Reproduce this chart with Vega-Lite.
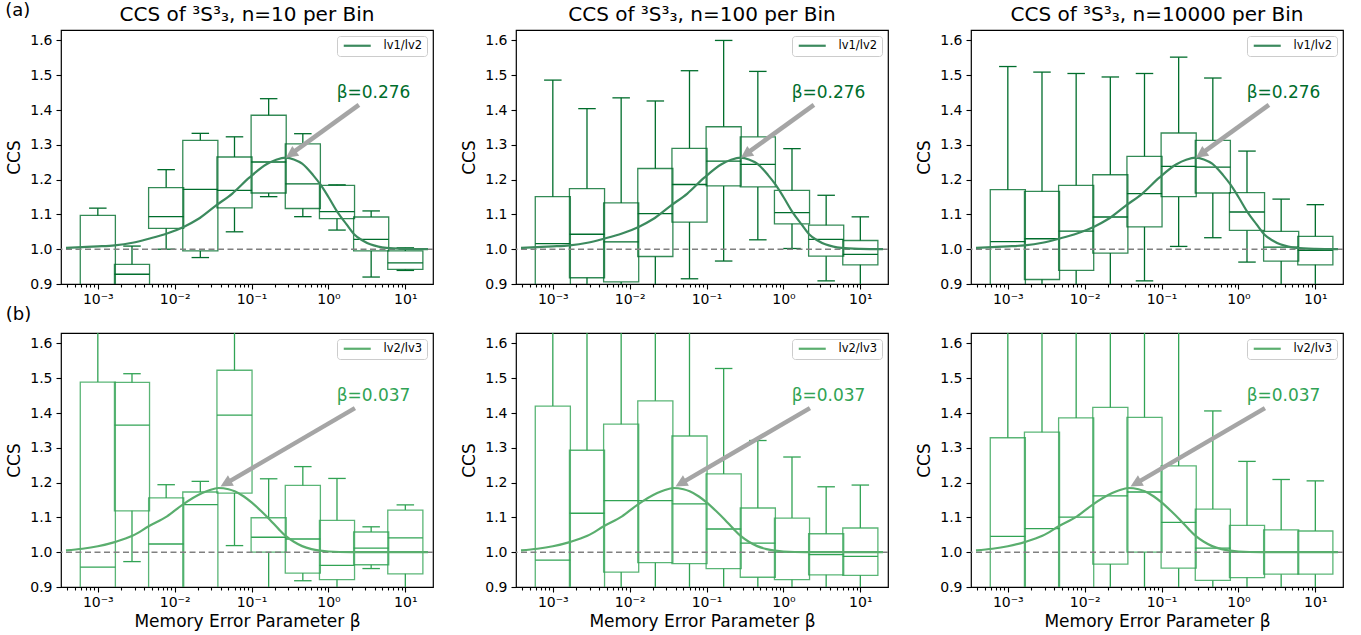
{
  "$schema": "https://vega.github.io/schema/vega-lite/v6.json",
  "padding": {"left": 5, "top": 2, "right": 5, "bottom": 3},
  "background": "white",
  "title": {"text": "(a)", "anchor": "start", "frame": "bounds", "offset": -16, "fontSize": 18, "fontWeight": "normal", "font": "DejaVu Sans", "color": "black"},
  "columns": 3,
  "bounds": "flush",
  "spacing": {"row": 49, "column": 83},
  "resolve": {"scale": {"color": "independent"}, "legend": {"color": "independent"}},
  "config": {
    "font": "DejaVu Sans",
    "view": {"stroke": "black", "strokeWidth": 1.2},
    "axis": {"domain": false, "grid": false, "labelFont": "DejaVu Sans", "labelFontSize": 14, "labelColor": "black", "titleFont": "DejaVu Sans", "titleFontSize": 17, "titleFontWeight": "normal", "titleColor": "black", "tickColor": "black", "tickWidth": 1.1},
    "title": {"font": "DejaVu Sans", "fontSize": 20, "fontWeight": "normal", "color": "black", "offset": 5},
    "legend": {"orient": "top-right", "offset": 6, "padding": 4, "strokeColor": "#cccccc", "fillColor": "white", "cornerRadius": 3, "symbolType": "M-1,0H8", "symbolSize": 36, "symbolStrokeWidth": 2.2, "labelFont": "DejaVu Sans", "labelFontSize": 11.5, "labelColor": "black", "labelOffset": 31}
  },
  "datasets": {
    "a10": [
      {"beta": 0.001, "lo": 0.8, "q1": 0.85, "med": 0.88, "q3": 1.097, "hi": 1.118},
      {"beta": 0.0027826, "lo": 0.85, "q1": 0.88, "med": 0.928, "q3": 0.9565, "hi": 1.009},
      {"beta": 0.0077426, "lo": 1.0, "q1": 1.06, "med": 1.0935, "q3": 1.177, "hi": 1.2286},
      {"beta": 0.021544, "lo": 0.976, "q1": 0.995, "med": 1.172, "q3": 1.313, "hi": 1.333},
      {"beta": 0.059948, "lo": 1.05, "q1": 1.119, "med": 1.169, "q3": 1.265, "hi": 1.323},
      {"beta": 0.16681, "lo": 1.151, "q1": 1.1615, "med": 1.2506, "q3": 1.385, "hi": 1.4326},
      {"beta": 0.46416, "lo": 1.0935, "q1": 1.117, "med": 1.188, "q3": 1.303, "hi": 1.332},
      {"beta": 1.2915, "lo": 1.055, "q1": 1.0877, "med": 1.108, "q3": 1.1835, "hi": 1.185},
      {"beta": 3.5938, "lo": 0.92, "q1": 0.995, "med": 1.0284, "q3": 1.0925, "hi": 1.11},
      {"beta": 10, "lo": 0.939, "q1": 0.942, "med": 0.961, "q3": 0.995, "hi": 1.004}
    ],
    "a100": [
      {"beta": 0.001, "lo": 0.8, "q1": 0.85, "med": 1.016, "q3": 1.151, "hi": 1.486},
      {"beta": 0.0027826, "lo": 0.85, "q1": 0.918, "med": 1.043, "q3": 1.174, "hi": 1.404},
      {"beta": 0.0077426, "lo": 0.85, "q1": 0.906, "med": 1.021, "q3": 1.133, "hi": 1.435},
      {"beta": 0.021544, "lo": 0.85, "q1": 0.979, "med": 1.102, "q3": 1.232, "hi": 1.426},
      {"beta": 0.059948, "lo": 0.915, "q1": 1.078, "med": 1.186, "q3": 1.29, "hi": 1.513},
      {"beta": 0.16681, "lo": 0.966, "q1": 1.182, "med": 1.253, "q3": 1.352, "hi": 1.6},
      {"beta": 0.46416, "lo": 1.027, "q1": 1.179, "med": 1.244, "q3": 1.323, "hi": 1.511},
      {"beta": 1.2915, "lo": 1.002, "q1": 1.073, "med": 1.105, "q3": 1.169, "hi": 1.289},
      {"beta": 3.5938, "lo": 0.909, "q1": 0.98, "med": 1.028, "q3": 1.069, "hi": 1.155},
      {"beta": 10, "lo": 0.85, "q1": 0.955, "med": 0.985, "q3": 1.025, "hi": 1.093}
    ],
    "a10000": [
      {"beta": 0.001, "lo": 0.8, "q1": 0.89, "med": 1.022, "q3": 1.171, "hi": 1.525},
      {"beta": 0.0027826, "lo": 0.85, "q1": 0.913, "med": 1.03, "q3": 1.166, "hi": 1.509},
      {"beta": 0.0077426, "lo": 0.85, "q1": 0.939, "med": 1.052, "q3": 1.1835, "hi": 1.505},
      {"beta": 0.021544, "lo": 0.85, "q1": 0.989, "med": 1.0925, "q3": 1.214, "hi": 1.495},
      {"beta": 0.059948, "lo": 0.909, "q1": 1.064, "med": 1.16, "q3": 1.267, "hi": 1.505},
      {"beta": 0.16681, "lo": 1.008, "q1": 1.151, "med": 1.238, "q3": 1.334, "hi": 1.552},
      {"beta": 0.46416, "lo": 1.033, "q1": 1.1615, "med": 1.236, "q3": 1.313, "hi": 1.492},
      {"beta": 1.2915, "lo": 0.963, "q1": 1.054, "med": 1.107, "q3": 1.1625, "hi": 1.282},
      {"beta": 3.5938, "lo": 0.85, "q1": 0.966, "med": 1.006, "q3": 1.051, "hi": 1.144},
      {"beta": 10, "lo": 0.85, "q1": 0.955, "med": 0.997, "q3": 1.037, "hi": 1.128}
    ],
    "b10": [
      {"beta": 0.001, "lo": 0.8, "q1": 0.85, "med": 0.957, "q3": 1.489, "hi": 1.75},
      {"beta": 0.0027826, "lo": 0.973, "q1": 1.119, "med": 1.365, "q3": 1.488, "hi": 1.513},
      {"beta": 0.0077426, "lo": 0.8, "q1": 0.85, "med": 1.0236, "q3": 1.156, "hi": 1.194},
      {"beta": 0.021544, "lo": 0.8, "q1": 0.85, "med": 1.137, "q3": 1.173, "hi": 1.2036},
      {"beta": 0.059948, "lo": 1.019, "q1": 1.17, "med": 1.394, "q3": 1.523, "hi": 1.75},
      {"beta": 0.16681, "lo": 0.85, "q1": 1.0, "med": 1.043, "q3": 1.099, "hi": 1.211},
      {"beta": 0.46416, "lo": 0.918, "q1": 0.94, "med": 1.038, "q3": 1.192, "hi": 1.246},
      {"beta": 1.2915, "lo": 0.85, "q1": 0.921, "med": 0.962, "q3": 1.0916, "hi": 1.212},
      {"beta": 3.5938, "lo": 0.953, "q1": 0.964, "med": 1.012, "q3": 1.058, "hi": 1.073},
      {"beta": 10, "lo": 0.85, "q1": 0.938, "med": 1.041, "q3": 1.121, "hi": 1.136}
    ],
    "b100": [
      {"beta": 0.001, "lo": 0.8, "q1": 0.85, "med": 0.977, "q3": 1.42, "hi": 1.75},
      {"beta": 0.0027826, "lo": 0.8, "q1": 0.85, "med": 1.112, "q3": 1.293, "hi": 1.75},
      {"beta": 0.0077426, "lo": 0.8, "q1": 0.943, "med": 1.148, "q3": 1.368, "hi": 1.75},
      {"beta": 0.021544, "lo": 0.8, "q1": 0.97, "med": 1.148, "q3": 1.435, "hi": 1.75},
      {"beta": 0.059948, "lo": 0.8, "q1": 0.967, "med": 1.139, "q3": 1.334, "hi": 1.75},
      {"beta": 0.16681, "lo": 0.8, "q1": 0.953, "med": 1.0667, "q3": 1.225, "hi": 1.528},
      {"beta": 0.46416, "lo": 0.8, "q1": 0.928, "med": 1.026, "q3": 1.127, "hi": 1.321},
      {"beta": 1.2915, "lo": 0.8, "q1": 0.921, "med": 1.0, "q3": 1.098, "hi": 1.2736},
      {"beta": 3.5938, "lo": 0.8, "q1": 0.935, "med": 0.993, "q3": 1.053, "hi": 1.188},
      {"beta": 10, "lo": 0.8, "q1": 0.9335, "med": 0.988, "q3": 1.0695, "hi": 1.193}
    ],
    "b10000": [
      {"beta": 0.001, "lo": 0.8, "q1": 0.85, "med": 1.0456, "q3": 1.329, "hi": 1.75},
      {"beta": 0.0027826, "lo": 0.8, "q1": 0.85, "med": 1.068, "q3": 1.345, "hi": 1.75},
      {"beta": 0.0077426, "lo": 0.8, "q1": 0.85, "med": 1.101, "q3": 1.386, "hi": 1.75},
      {"beta": 0.021544, "lo": 0.8, "q1": 0.966, "med": 1.162, "q3": 1.416, "hi": 1.75},
      {"beta": 0.059948, "lo": 0.8, "q1": 1.0, "med": 1.173, "q3": 1.3875, "hi": 1.75},
      {"beta": 0.16681, "lo": 0.8, "q1": 0.954, "med": 1.086, "q3": 1.248, "hi": 1.75},
      {"beta": 0.46416, "lo": 0.8, "q1": 0.919, "med": 1.012, "q3": 1.124, "hi": 1.406},
      {"beta": 1.2915, "lo": 0.8, "q1": 0.927, "med": 1.0, "q3": 1.077, "hi": 1.261},
      {"beta": 3.5938, "lo": 0.8, "q1": 0.937, "med": 1.0, "q3": 1.064, "hi": 1.209},
      {"beta": 10, "lo": 0.8, "q1": 0.937, "med": 1.0, "q3": 1.061, "hi": 1.205}
    ],
    "curve_a": [
      {"beta": 0.0003855, "ccs": 1.004, "series": "lv1/lv2"},
      {"beta": 0.00063096, "ccs": 1.006, "series": "lv1/lv2"},
      {"beta": 0.001, "ccs": 1.008, "series": "lv1/lv2"},
      {"beta": 0.0016558, "ccs": 1.011, "series": "lv1/lv2"},
      {"beta": 0.0028184, "ccs": 1.0185, "series": "lv1/lv2"},
      {"beta": 0.004592, "ccs": 1.03, "series": "lv1/lv2"},
      {"beta": 0.0079433, "ccs": 1.045, "series": "lv1/lv2"},
      {"beta": 0.013062, "ccs": 1.064, "series": "lv1/lv2"},
      {"beta": 0.019953, "ccs": 1.086, "series": "lv1/lv2"},
      {"beta": 0.033651, "ccs": 1.124, "series": "lv1/lv2"},
      {"beta": 0.056234, "ccs": 1.16, "series": "lv1/lv2"},
      {"beta": 0.093325, "ccs": 1.2055, "series": "lv1/lv2"},
      {"beta": 0.15631, "ccs": 1.244, "series": "lv1/lv2"},
      {"beta": 0.20893, "ccs": 1.257, "series": "lv1/lv2"},
      {"beta": 0.2799, "ccs": 1.263, "series": "lv1/lv2"},
      {"beta": 0.35481, "ccs": 1.258, "series": "lv1/lv2"},
      {"beta": 0.45499, "ccs": 1.246, "series": "lv1/lv2"},
      {"beta": 0.63096, "ccs": 1.213, "series": "lv1/lv2"},
      {"beta": 0.78524, "ccs": 1.186, "series": "lv1/lv2"},
      {"beta": 1.0, "ccs": 1.15, "series": "lv1/lv2"},
      {"beta": 1.3243, "ccs": 1.105, "series": "lv1/lv2"},
      {"beta": 1.71, "ccs": 1.072, "series": "lv1/lv2"},
      {"beta": 2.1528, "ccs": 1.043, "series": "lv1/lv2"},
      {"beta": 2.7797, "ccs": 1.025, "series": "lv1/lv2"},
      {"beta": 3.4995, "ccs": 1.014, "series": "lv1/lv2"},
      {"beta": 4.4668, "ccs": 1.0075, "series": "lv1/lv2"},
      {"beta": 5.6754, "ccs": 1.004, "series": "lv1/lv2"},
      {"beta": 10, "ccs": 1.001, "series": "lv1/lv2"},
      {"beta": 19.72, "ccs": 1.0, "series": "lv1/lv2"}
    ],
    "curve_b": [
      {"beta": 0.0003855, "ccs": 1.0055, "series": "lv2/lv3"},
      {"beta": 0.00063096, "ccs": 1.01, "series": "lv2/lv3"},
      {"beta": 0.001, "ccs": 1.017, "series": "lv2/lv3"},
      {"beta": 0.0016558, "ccs": 1.029, "series": "lv2/lv3"},
      {"beta": 0.0028184, "ccs": 1.047, "series": "lv2/lv3"},
      {"beta": 0.004592, "ccs": 1.0744, "series": "lv2/lv3"},
      {"beta": 0.0079433, "ccs": 1.103, "series": "lv2/lv3"},
      {"beta": 0.012735, "ccs": 1.137, "series": "lv2/lv3"},
      {"beta": 0.022803, "ccs": 1.17, "series": "lv2/lv3"},
      {"beta": 0.028184, "ccs": 1.178, "series": "lv2/lv3"},
      {"beta": 0.036983, "ccs": 1.1845, "series": "lv2/lv3"},
      {"beta": 0.050119, "ccs": 1.181, "series": "lv2/lv3"},
      {"beta": 0.060256, "ccs": 1.175, "series": "lv2/lv3"},
      {"beta": 0.079433, "ccs": 1.16, "series": "lv2/lv3"},
      {"beta": 0.1, "ccs": 1.143, "series": "lv2/lv3"},
      {"beta": 0.13183, "ccs": 1.119, "series": "lv2/lv3"},
      {"beta": 0.17179, "ccs": 1.094, "series": "lv2/lv3"},
      {"beta": 0.22387, "ccs": 1.067, "series": "lv2/lv3"},
      {"beta": 0.2799, "ccs": 1.046, "series": "lv2/lv3"},
      {"beta": 0.35481, "ccs": 1.03, "series": "lv2/lv3"},
      {"beta": 0.45499, "ccs": 1.0175, "series": "lv2/lv3"},
      {"beta": 0.60256, "ccs": 1.009, "series": "lv2/lv3"},
      {"beta": 0.77625, "ccs": 1.0046, "series": "lv2/lv3"},
      {"beta": 1.0, "ccs": 1.002, "series": "lv2/lv3"},
      {"beta": 1.9498, "ccs": 1.0, "series": "lv2/lv3"},
      {"beta": 19.72, "ccs": 1.0, "series": "lv2/lv3"}
    ],
    "ann_a": [
      {"tail_x": 2.49, "tail_y": 1.415, "base_x": 0.3553, "base_y": 1.2797, "tip_x": 0.28, "tip_y": 1.263, "tx": 3.86, "ty": 1.45, "label": "β=0.276"}
    ],
    "ann_b": [
      {"tail_x": 2.21, "tail_y": 1.414, "base_x": 0.05084, "base_y": 1.203, "tip_x": 0.0394, "tip_y": 1.189, "tx": 3.86, "ty": 1.448, "label": "β=0.037"}
    ]
  },
  "concat": [
    {
      "width": 372, "height": 254,
      "title": {"text": "CCS of ³S³₃, n=10 per Bin"},
      "resolve": {"axis": {"x": "independent", "y": "independent"}},
      "layer": [
        {"data": {"name": "a10"},
         "mark": {"type": "bar", "orient": "vertical", "width": 35.1, "filled": false, "color": "#006d2c", "strokeWidth": 1.3, "opacity": 1, "strokeOpacity": 0.8, "clip": true},
         "encoding": {
           "x": {"field": "beta", "type": "quantitative", "scale": {"type": "log", "domain": [0.0003855, 19.72], "nice": false}, "axis": {"orient": "bottom", "values": [0.001, 0.01, 0.1, 1, 10], "labelExpr": "datum.value < 0.005 ? '10⁻³' : datum.value < 0.05 ? '10⁻²' : datum.value < 0.5 ? '10⁻¹' : datum.value < 5 ? '10⁰' : '10¹'", "title": null, "tickSize": 5, "labelPadding": 3, "labelOverlap": false, "labelFlush": false}},
           "y": {"field": "q1", "type": "quantitative", "scale": {"domain": [0.9, 1.63], "nice": false, "zero": false}, "axis": {"orient": "left", "title": "CCS", "values": [0.9, 1.0, 1.1, 1.2, 1.3, 1.4, 1.5, 1.6], "format": ".1f", "tickSize": 5, "labelPadding": 4, "titlePadding": 6}},
           "y2": {"field": "q3"}
         }},
        {"data": {"name": "a10"},
         "mark": {"type": "rule", "color": "#006d2c", "strokeWidth": 1.3, "clip": true},
         "encoding": {
           "x": {"field": "beta", "type": "quantitative", "axis": {"orient": "bottom", "values": [0.0004, 0.0005, 0.0006, 0.0007, 0.0008, 0.0009, 0.002, 0.003, 0.004, 0.005, 0.006, 0.007, 0.008, 0.009, 0.02, 0.03, 0.04, 0.05, 0.06, 0.07, 0.08, 0.09, 0.2, 0.3, 0.4, 0.5, 0.6, 0.7, 0.8, 0.9, 2, 3, 4, 5, 6, 7, 8, 9], "labels": false, "tickSize": 3, "title": null}},
           "y": {"field": "lo", "type": "quantitative", "axis": null},
           "y2": {"field": "q1"}
         }},
        {"data": {"name": "a10"},
         "mark": {"type": "rule", "color": "#006d2c", "strokeWidth": 1.3, "clip": true},
         "encoding": {
           "x": {"field": "beta", "type": "quantitative", "axis": null},
           "y": {"field": "q3", "type": "quantitative", "axis": null},
           "y2": {"field": "hi"}
         }},
        {"data": {"name": "a10"},
         "transform": [{"fold": ["lo", "hi"], "as": ["k", "v"]}],
         "mark": {"type": "tick", "orient": "horizontal", "size": 17.5, "thickness": 1.3, "color": "#006d2c", "opacity": 1, "clip": true},
         "encoding": {
           "x": {"field": "beta", "type": "quantitative", "axis": null},
           "y": {"field": "v", "type": "quantitative", "axis": null}
         }},
        {"data": {"name": "a10"},
         "mark": {"type": "tick", "orient": "horizontal", "size": 35.1, "thickness": 1.3, "color": "#006d2c", "opacity": 1, "clip": true},
         "encoding": {
           "x": {"field": "beta", "type": "quantitative", "axis": null},
           "y": {"field": "med", "type": "quantitative", "axis": null}
         }},
        {"data": {"values": [{}]},
         "mark": {"type": "rule", "color": "#808080", "strokeWidth": 1.5, "strokeDash": [6, 3.5]},
         "encoding": {"y": {"datum": 1, "axis": null}}},
        {"data": {"name": "curve_a"},
         "mark": {"type": "line", "strokeWidth": 2.2, "interpolate": "monotone", "clip": true},
         "encoding": {
           "x": {"field": "beta", "type": "quantitative", "axis": null},
           "y": {"field": "ccs", "type": "quantitative", "axis": null},
           "color": {"field": "series", "type": "nominal", "scale": {"range": ["#3c8a5e"]}, "legend": {"title": null}}
         }},
        {"data": {"name": "ann_a"},
         "mark": {"type": "rule", "color": "#a5a5a5", "strokeWidth": 4.5},
         "encoding": {
           "x": {"field": "tail_x", "type": "quantitative", "axis": null},
           "y": {"field": "tail_y", "type": "quantitative", "axis": null},
           "x2": {"field": "base_x"}, "y2": {"field": "base_y"}
         }},
        {"data": {"name": "ann_a"},
         "mark": {"type": "point", "shape": "M0,0L-2,-1L-2,1Z", "size": 144, "angle": 144.8, "filled": true, "color": "#a5a5a5", "opacity": 1, "strokeWidth": 0},
         "encoding": {
           "x": {"field": "tip_x", "type": "quantitative", "axis": null},
           "y": {"field": "tip_y", "type": "quantitative", "axis": null}
         }},
        {"data": {"name": "ann_a"},
         "mark": {"type": "text", "fontSize": 17, "color": "#006d2c", "align": "center", "baseline": "middle"},
         "encoding": {
           "x": {"field": "tx", "type": "quantitative", "axis": null},
           "y": {"field": "ty", "type": "quantitative", "axis": null},
           "text": {"field": "label"}
         }}
      ]
    },
    {
      "width": 372, "height": 254,
      "title": {"text": "CCS of ³S³₃, n=100 per Bin"},
      "resolve": {"axis": {"x": "independent", "y": "independent"}},
      "layer": [
        {"data": {"name": "a100"},
         "mark": {"type": "bar", "orient": "vertical", "width": 35.1, "filled": false, "color": "#006d2c", "strokeWidth": 1.3, "opacity": 1, "strokeOpacity": 0.8, "clip": true},
         "encoding": {
           "x": {"field": "beta", "type": "quantitative", "scale": {"type": "log", "domain": [0.0003855, 19.72], "nice": false}, "axis": {"orient": "bottom", "values": [0.001, 0.01, 0.1, 1, 10], "labelExpr": "datum.value < 0.005 ? '10⁻³' : datum.value < 0.05 ? '10⁻²' : datum.value < 0.5 ? '10⁻¹' : datum.value < 5 ? '10⁰' : '10¹'", "title": null, "tickSize": 5, "labelPadding": 3, "labelOverlap": false, "labelFlush": false}},
           "y": {"field": "q1", "type": "quantitative", "scale": {"domain": [0.9, 1.63], "nice": false, "zero": false}, "axis": {"orient": "left", "title": "CCS", "values": [0.9, 1.0, 1.1, 1.2, 1.3, 1.4, 1.5, 1.6], "format": ".1f", "tickSize": 5, "labelPadding": 4, "titlePadding": 6}},
           "y2": {"field": "q3"}
         }},
        {"data": {"name": "a100"},
         "mark": {"type": "rule", "color": "#006d2c", "strokeWidth": 1.3, "clip": true},
         "encoding": {
           "x": {"field": "beta", "type": "quantitative", "axis": {"orient": "bottom", "values": [0.0004, 0.0005, 0.0006, 0.0007, 0.0008, 0.0009, 0.002, 0.003, 0.004, 0.005, 0.006, 0.007, 0.008, 0.009, 0.02, 0.03, 0.04, 0.05, 0.06, 0.07, 0.08, 0.09, 0.2, 0.3, 0.4, 0.5, 0.6, 0.7, 0.8, 0.9, 2, 3, 4, 5, 6, 7, 8, 9], "labels": false, "tickSize": 3, "title": null}},
           "y": {"field": "lo", "type": "quantitative", "axis": null},
           "y2": {"field": "q1"}
         }},
        {"data": {"name": "a100"},
         "mark": {"type": "rule", "color": "#006d2c", "strokeWidth": 1.3, "clip": true},
         "encoding": {
           "x": {"field": "beta", "type": "quantitative", "axis": null},
           "y": {"field": "q3", "type": "quantitative", "axis": null},
           "y2": {"field": "hi"}
         }},
        {"data": {"name": "a100"},
         "transform": [{"fold": ["lo", "hi"], "as": ["k", "v"]}],
         "mark": {"type": "tick", "orient": "horizontal", "size": 17.5, "thickness": 1.3, "color": "#006d2c", "opacity": 1, "clip": true},
         "encoding": {
           "x": {"field": "beta", "type": "quantitative", "axis": null},
           "y": {"field": "v", "type": "quantitative", "axis": null}
         }},
        {"data": {"name": "a100"},
         "mark": {"type": "tick", "orient": "horizontal", "size": 35.1, "thickness": 1.3, "color": "#006d2c", "opacity": 1, "clip": true},
         "encoding": {
           "x": {"field": "beta", "type": "quantitative", "axis": null},
           "y": {"field": "med", "type": "quantitative", "axis": null}
         }},
        {"data": {"values": [{}]},
         "mark": {"type": "rule", "color": "#808080", "strokeWidth": 1.5, "strokeDash": [6, 3.5]},
         "encoding": {"y": {"datum": 1, "axis": null}}},
        {"data": {"name": "curve_a"},
         "mark": {"type": "line", "strokeWidth": 2.2, "interpolate": "monotone", "clip": true},
         "encoding": {
           "x": {"field": "beta", "type": "quantitative", "axis": null},
           "y": {"field": "ccs", "type": "quantitative", "axis": null},
           "color": {"field": "series", "type": "nominal", "scale": {"range": ["#3c8a5e"]}, "legend": {"title": null}}
         }},
        {"data": {"name": "ann_a"},
         "mark": {"type": "rule", "color": "#a5a5a5", "strokeWidth": 4.5},
         "encoding": {
           "x": {"field": "tail_x", "type": "quantitative", "axis": null},
           "y": {"field": "tail_y", "type": "quantitative", "axis": null},
           "x2": {"field": "base_x"}, "y2": {"field": "base_y"}
         }},
        {"data": {"name": "ann_a"},
         "mark": {"type": "point", "shape": "M0,0L-2,-1L-2,1Z", "size": 144, "angle": 144.8, "filled": true, "color": "#a5a5a5", "opacity": 1, "strokeWidth": 0},
         "encoding": {
           "x": {"field": "tip_x", "type": "quantitative", "axis": null},
           "y": {"field": "tip_y", "type": "quantitative", "axis": null}
         }},
        {"data": {"name": "ann_a"},
         "mark": {"type": "text", "fontSize": 17, "color": "#006d2c", "align": "center", "baseline": "middle"},
         "encoding": {
           "x": {"field": "tx", "type": "quantitative", "axis": null},
           "y": {"field": "ty", "type": "quantitative", "axis": null},
           "text": {"field": "label"}
         }}
      ]
    },
    {
      "width": 372, "height": 254,
      "title": {"text": "CCS of ³S³₃, n=10000 per Bin"},
      "resolve": {"axis": {"x": "independent", "y": "independent"}},
      "layer": [
        {"data": {"name": "a10000"},
         "mark": {"type": "bar", "orient": "vertical", "width": 35.1, "filled": false, "color": "#006d2c", "strokeWidth": 1.3, "opacity": 1, "strokeOpacity": 0.8, "clip": true},
         "encoding": {
           "x": {"field": "beta", "type": "quantitative", "scale": {"type": "log", "domain": [0.0003855, 19.72], "nice": false}, "axis": {"orient": "bottom", "values": [0.001, 0.01, 0.1, 1, 10], "labelExpr": "datum.value < 0.005 ? '10⁻³' : datum.value < 0.05 ? '10⁻²' : datum.value < 0.5 ? '10⁻¹' : datum.value < 5 ? '10⁰' : '10¹'", "title": null, "tickSize": 5, "labelPadding": 3, "labelOverlap": false, "labelFlush": false}},
           "y": {"field": "q1", "type": "quantitative", "scale": {"domain": [0.9, 1.63], "nice": false, "zero": false}, "axis": {"orient": "left", "title": "CCS", "values": [0.9, 1.0, 1.1, 1.2, 1.3, 1.4, 1.5, 1.6], "format": ".1f", "tickSize": 5, "labelPadding": 4, "titlePadding": 6}},
           "y2": {"field": "q3"}
         }},
        {"data": {"name": "a10000"},
         "mark": {"type": "rule", "color": "#006d2c", "strokeWidth": 1.3, "clip": true},
         "encoding": {
           "x": {"field": "beta", "type": "quantitative", "axis": {"orient": "bottom", "values": [0.0004, 0.0005, 0.0006, 0.0007, 0.0008, 0.0009, 0.002, 0.003, 0.004, 0.005, 0.006, 0.007, 0.008, 0.009, 0.02, 0.03, 0.04, 0.05, 0.06, 0.07, 0.08, 0.09, 0.2, 0.3, 0.4, 0.5, 0.6, 0.7, 0.8, 0.9, 2, 3, 4, 5, 6, 7, 8, 9], "labels": false, "tickSize": 3, "title": null}},
           "y": {"field": "lo", "type": "quantitative", "axis": null},
           "y2": {"field": "q1"}
         }},
        {"data": {"name": "a10000"},
         "mark": {"type": "rule", "color": "#006d2c", "strokeWidth": 1.3, "clip": true},
         "encoding": {
           "x": {"field": "beta", "type": "quantitative", "axis": null},
           "y": {"field": "q3", "type": "quantitative", "axis": null},
           "y2": {"field": "hi"}
         }},
        {"data": {"name": "a10000"},
         "transform": [{"fold": ["lo", "hi"], "as": ["k", "v"]}],
         "mark": {"type": "tick", "orient": "horizontal", "size": 17.5, "thickness": 1.3, "color": "#006d2c", "opacity": 1, "clip": true},
         "encoding": {
           "x": {"field": "beta", "type": "quantitative", "axis": null},
           "y": {"field": "v", "type": "quantitative", "axis": null}
         }},
        {"data": {"name": "a10000"},
         "mark": {"type": "tick", "orient": "horizontal", "size": 35.1, "thickness": 1.3, "color": "#006d2c", "opacity": 1, "clip": true},
         "encoding": {
           "x": {"field": "beta", "type": "quantitative", "axis": null},
           "y": {"field": "med", "type": "quantitative", "axis": null}
         }},
        {"data": {"values": [{}]},
         "mark": {"type": "rule", "color": "#808080", "strokeWidth": 1.5, "strokeDash": [6, 3.5]},
         "encoding": {"y": {"datum": 1, "axis": null}}},
        {"data": {"name": "curve_a"},
         "mark": {"type": "line", "strokeWidth": 2.2, "interpolate": "monotone", "clip": true},
         "encoding": {
           "x": {"field": "beta", "type": "quantitative", "axis": null},
           "y": {"field": "ccs", "type": "quantitative", "axis": null},
           "color": {"field": "series", "type": "nominal", "scale": {"range": ["#3c8a5e"]}, "legend": {"title": null}}
         }},
        {"data": {"name": "ann_a"},
         "mark": {"type": "rule", "color": "#a5a5a5", "strokeWidth": 4.5},
         "encoding": {
           "x": {"field": "tail_x", "type": "quantitative", "axis": null},
           "y": {"field": "tail_y", "type": "quantitative", "axis": null},
           "x2": {"field": "base_x"}, "y2": {"field": "base_y"}
         }},
        {"data": {"name": "ann_a"},
         "mark": {"type": "point", "shape": "M0,0L-2,-1L-2,1Z", "size": 144, "angle": 144.8, "filled": true, "color": "#a5a5a5", "opacity": 1, "strokeWidth": 0},
         "encoding": {
           "x": {"field": "tip_x", "type": "quantitative", "axis": null},
           "y": {"field": "tip_y", "type": "quantitative", "axis": null}
         }},
        {"data": {"name": "ann_a"},
         "mark": {"type": "text", "fontSize": 17, "color": "#006d2c", "align": "center", "baseline": "middle"},
         "encoding": {
           "x": {"field": "tx", "type": "quantitative", "axis": null},
           "y": {"field": "ty", "type": "quantitative", "axis": null},
           "text": {"field": "label"}
         }}
      ]
    },
    {
      "width": 372, "height": 254,
      "title": {"text": "(b)", "anchor": "start", "frame": "bounds", "fontSize": 18, "offset": 9},
      "resolve": {"axis": {"x": "independent", "y": "independent"}},
      "layer": [
        {"data": {"name": "b10"},
         "mark": {"type": "bar", "orient": "vertical", "width": 35.1, "filled": false, "color": "#31a354", "strokeWidth": 1.3, "opacity": 1, "strokeOpacity": 0.8, "clip": true},
         "encoding": {
           "x": {"field": "beta", "type": "quantitative", "scale": {"type": "log", "domain": [0.0003855, 19.72], "nice": false}, "axis": {"orient": "bottom", "values": [0.001, 0.01, 0.1, 1, 10], "labelExpr": "datum.value < 0.005 ? '10⁻³' : datum.value < 0.05 ? '10⁻²' : datum.value < 0.5 ? '10⁻¹' : datum.value < 5 ? '10⁰' : '10¹'", "title": "Memory Error Parameter β", "titlePadding": 4, "tickSize": 5, "labelPadding": 3, "labelOverlap": false, "labelFlush": false}},
           "y": {"field": "q1", "type": "quantitative", "scale": {"domain": [0.9, 1.63], "nice": false, "zero": false}, "axis": {"orient": "left", "title": "CCS", "values": [0.9, 1.0, 1.1, 1.2, 1.3, 1.4, 1.5, 1.6], "format": ".1f", "tickSize": 5, "labelPadding": 4, "titlePadding": 6}},
           "y2": {"field": "q3"}
         }},
        {"data": {"name": "b10"},
         "mark": {"type": "rule", "color": "#31a354", "strokeWidth": 1.3, "clip": true},
         "encoding": {
           "x": {"field": "beta", "type": "quantitative", "axis": {"orient": "bottom", "values": [0.0004, 0.0005, 0.0006, 0.0007, 0.0008, 0.0009, 0.002, 0.003, 0.004, 0.005, 0.006, 0.007, 0.008, 0.009, 0.02, 0.03, 0.04, 0.05, 0.06, 0.07, 0.08, 0.09, 0.2, 0.3, 0.4, 0.5, 0.6, 0.7, 0.8, 0.9, 2, 3, 4, 5, 6, 7, 8, 9], "labels": false, "tickSize": 3, "title": null}},
           "y": {"field": "lo", "type": "quantitative", "axis": null},
           "y2": {"field": "q1"}
         }},
        {"data": {"name": "b10"},
         "mark": {"type": "rule", "color": "#31a354", "strokeWidth": 1.3, "clip": true},
         "encoding": {
           "x": {"field": "beta", "type": "quantitative", "axis": null},
           "y": {"field": "q3", "type": "quantitative", "axis": null},
           "y2": {"field": "hi"}
         }},
        {"data": {"name": "b10"},
         "transform": [{"fold": ["lo", "hi"], "as": ["k", "v"]}],
         "mark": {"type": "tick", "orient": "horizontal", "size": 17.5, "thickness": 1.3, "color": "#31a354", "opacity": 1, "clip": true},
         "encoding": {
           "x": {"field": "beta", "type": "quantitative", "axis": null},
           "y": {"field": "v", "type": "quantitative", "axis": null}
         }},
        {"data": {"name": "b10"},
         "mark": {"type": "tick", "orient": "horizontal", "size": 35.1, "thickness": 1.3, "color": "#31a354", "opacity": 1, "clip": true},
         "encoding": {
           "x": {"field": "beta", "type": "quantitative", "axis": null},
           "y": {"field": "med", "type": "quantitative", "axis": null}
         }},
        {"data": {"values": [{}]},
         "mark": {"type": "rule", "color": "#808080", "strokeWidth": 1.5, "strokeDash": [6, 3.5]},
         "encoding": {"y": {"datum": 1, "axis": null}}},
        {"data": {"name": "curve_b"},
         "mark": {"type": "line", "strokeWidth": 2.2, "interpolate": "monotone", "clip": true},
         "encoding": {
           "x": {"field": "beta", "type": "quantitative", "axis": null},
           "y": {"field": "ccs", "type": "quantitative", "axis": null},
           "color": {"field": "series", "type": "nominal", "scale": {"range": ["#5aae6e"]}, "legend": {"title": null}}
         }},
        {"data": {"name": "ann_b"},
         "mark": {"type": "rule", "color": "#a5a5a5", "strokeWidth": 4.5},
         "encoding": {
           "x": {"field": "tail_x", "type": "quantitative", "axis": null},
           "y": {"field": "tail_y", "type": "quantitative", "axis": null},
           "x2": {"field": "base_x"}, "y2": {"field": "base_y"}
         }},
        {"data": {"name": "ann_b"},
         "mark": {"type": "point", "shape": "M0,0L-2,-1L-2,1Z", "size": 144, "angle": 150.45, "filled": true, "color": "#a5a5a5", "opacity": 1, "strokeWidth": 0},
         "encoding": {
           "x": {"field": "tip_x", "type": "quantitative", "axis": null},
           "y": {"field": "tip_y", "type": "quantitative", "axis": null}
         }},
        {"data": {"name": "ann_b"},
         "mark": {"type": "text", "fontSize": 17, "color": "#31a354", "align": "center", "baseline": "middle"},
         "encoding": {
           "x": {"field": "tx", "type": "quantitative", "axis": null},
           "y": {"field": "ty", "type": "quantitative", "axis": null},
           "text": {"field": "label"}
         }}
      ]
    },
    {
      "width": 372, "height": 254,
      "resolve": {"axis": {"x": "independent", "y": "independent"}},
      "layer": [
        {"data": {"name": "b100"},
         "mark": {"type": "bar", "orient": "vertical", "width": 35.1, "filled": false, "color": "#31a354", "strokeWidth": 1.3, "opacity": 1, "strokeOpacity": 0.8, "clip": true},
         "encoding": {
           "x": {"field": "beta", "type": "quantitative", "scale": {"type": "log", "domain": [0.0003855, 19.72], "nice": false}, "axis": {"orient": "bottom", "values": [0.001, 0.01, 0.1, 1, 10], "labelExpr": "datum.value < 0.005 ? '10⁻³' : datum.value < 0.05 ? '10⁻²' : datum.value < 0.5 ? '10⁻¹' : datum.value < 5 ? '10⁰' : '10¹'", "title": "Memory Error Parameter β", "titlePadding": 4, "tickSize": 5, "labelPadding": 3, "labelOverlap": false, "labelFlush": false}},
           "y": {"field": "q1", "type": "quantitative", "scale": {"domain": [0.9, 1.63], "nice": false, "zero": false}, "axis": {"orient": "left", "title": "CCS", "values": [0.9, 1.0, 1.1, 1.2, 1.3, 1.4, 1.5, 1.6], "format": ".1f", "tickSize": 5, "labelPadding": 4, "titlePadding": 6}},
           "y2": {"field": "q3"}
         }},
        {"data": {"name": "b100"},
         "mark": {"type": "rule", "color": "#31a354", "strokeWidth": 1.3, "clip": true},
         "encoding": {
           "x": {"field": "beta", "type": "quantitative", "axis": {"orient": "bottom", "values": [0.0004, 0.0005, 0.0006, 0.0007, 0.0008, 0.0009, 0.002, 0.003, 0.004, 0.005, 0.006, 0.007, 0.008, 0.009, 0.02, 0.03, 0.04, 0.05, 0.06, 0.07, 0.08, 0.09, 0.2, 0.3, 0.4, 0.5, 0.6, 0.7, 0.8, 0.9, 2, 3, 4, 5, 6, 7, 8, 9], "labels": false, "tickSize": 3, "title": null}},
           "y": {"field": "lo", "type": "quantitative", "axis": null},
           "y2": {"field": "q1"}
         }},
        {"data": {"name": "b100"},
         "mark": {"type": "rule", "color": "#31a354", "strokeWidth": 1.3, "clip": true},
         "encoding": {
           "x": {"field": "beta", "type": "quantitative", "axis": null},
           "y": {"field": "q3", "type": "quantitative", "axis": null},
           "y2": {"field": "hi"}
         }},
        {"data": {"name": "b100"},
         "transform": [{"fold": ["lo", "hi"], "as": ["k", "v"]}],
         "mark": {"type": "tick", "orient": "horizontal", "size": 17.5, "thickness": 1.3, "color": "#31a354", "opacity": 1, "clip": true},
         "encoding": {
           "x": {"field": "beta", "type": "quantitative", "axis": null},
           "y": {"field": "v", "type": "quantitative", "axis": null}
         }},
        {"data": {"name": "b100"},
         "mark": {"type": "tick", "orient": "horizontal", "size": 35.1, "thickness": 1.3, "color": "#31a354", "opacity": 1, "clip": true},
         "encoding": {
           "x": {"field": "beta", "type": "quantitative", "axis": null},
           "y": {"field": "med", "type": "quantitative", "axis": null}
         }},
        {"data": {"values": [{}]},
         "mark": {"type": "rule", "color": "#808080", "strokeWidth": 1.5, "strokeDash": [6, 3.5]},
         "encoding": {"y": {"datum": 1, "axis": null}}},
        {"data": {"name": "curve_b"},
         "mark": {"type": "line", "strokeWidth": 2.2, "interpolate": "monotone", "clip": true},
         "encoding": {
           "x": {"field": "beta", "type": "quantitative", "axis": null},
           "y": {"field": "ccs", "type": "quantitative", "axis": null},
           "color": {"field": "series", "type": "nominal", "scale": {"range": ["#5aae6e"]}, "legend": {"title": null}}
         }},
        {"data": {"name": "ann_b"},
         "mark": {"type": "rule", "color": "#a5a5a5", "strokeWidth": 4.5},
         "encoding": {
           "x": {"field": "tail_x", "type": "quantitative", "axis": null},
           "y": {"field": "tail_y", "type": "quantitative", "axis": null},
           "x2": {"field": "base_x"}, "y2": {"field": "base_y"}
         }},
        {"data": {"name": "ann_b"},
         "mark": {"type": "point", "shape": "M0,0L-2,-1L-2,1Z", "size": 144, "angle": 150.45, "filled": true, "color": "#a5a5a5", "opacity": 1, "strokeWidth": 0},
         "encoding": {
           "x": {"field": "tip_x", "type": "quantitative", "axis": null},
           "y": {"field": "tip_y", "type": "quantitative", "axis": null}
         }},
        {"data": {"name": "ann_b"},
         "mark": {"type": "text", "fontSize": 17, "color": "#31a354", "align": "center", "baseline": "middle"},
         "encoding": {
           "x": {"field": "tx", "type": "quantitative", "axis": null},
           "y": {"field": "ty", "type": "quantitative", "axis": null},
           "text": {"field": "label"}
         }}
      ]
    },
    {
      "width": 372, "height": 254,
      "resolve": {"axis": {"x": "independent", "y": "independent"}},
      "layer": [
        {"data": {"name": "b10000"},
         "mark": {"type": "bar", "orient": "vertical", "width": 35.1, "filled": false, "color": "#31a354", "strokeWidth": 1.3, "opacity": 1, "strokeOpacity": 0.8, "clip": true},
         "encoding": {
           "x": {"field": "beta", "type": "quantitative", "scale": {"type": "log", "domain": [0.0003855, 19.72], "nice": false}, "axis": {"orient": "bottom", "values": [0.001, 0.01, 0.1, 1, 10], "labelExpr": "datum.value < 0.005 ? '10⁻³' : datum.value < 0.05 ? '10⁻²' : datum.value < 0.5 ? '10⁻¹' : datum.value < 5 ? '10⁰' : '10¹'", "title": "Memory Error Parameter β", "titlePadding": 4, "tickSize": 5, "labelPadding": 3, "labelOverlap": false, "labelFlush": false}},
           "y": {"field": "q1", "type": "quantitative", "scale": {"domain": [0.9, 1.63], "nice": false, "zero": false}, "axis": {"orient": "left", "title": "CCS", "values": [0.9, 1.0, 1.1, 1.2, 1.3, 1.4, 1.5, 1.6], "format": ".1f", "tickSize": 5, "labelPadding": 4, "titlePadding": 6}},
           "y2": {"field": "q3"}
         }},
        {"data": {"name": "b10000"},
         "mark": {"type": "rule", "color": "#31a354", "strokeWidth": 1.3, "clip": true},
         "encoding": {
           "x": {"field": "beta", "type": "quantitative", "axis": {"orient": "bottom", "values": [0.0004, 0.0005, 0.0006, 0.0007, 0.0008, 0.0009, 0.002, 0.003, 0.004, 0.005, 0.006, 0.007, 0.008, 0.009, 0.02, 0.03, 0.04, 0.05, 0.06, 0.07, 0.08, 0.09, 0.2, 0.3, 0.4, 0.5, 0.6, 0.7, 0.8, 0.9, 2, 3, 4, 5, 6, 7, 8, 9], "labels": false, "tickSize": 3, "title": null}},
           "y": {"field": "lo", "type": "quantitative", "axis": null},
           "y2": {"field": "q1"}
         }},
        {"data": {"name": "b10000"},
         "mark": {"type": "rule", "color": "#31a354", "strokeWidth": 1.3, "clip": true},
         "encoding": {
           "x": {"field": "beta", "type": "quantitative", "axis": null},
           "y": {"field": "q3", "type": "quantitative", "axis": null},
           "y2": {"field": "hi"}
         }},
        {"data": {"name": "b10000"},
         "transform": [{"fold": ["lo", "hi"], "as": ["k", "v"]}],
         "mark": {"type": "tick", "orient": "horizontal", "size": 17.5, "thickness": 1.3, "color": "#31a354", "opacity": 1, "clip": true},
         "encoding": {
           "x": {"field": "beta", "type": "quantitative", "axis": null},
           "y": {"field": "v", "type": "quantitative", "axis": null}
         }},
        {"data": {"name": "b10000"},
         "mark": {"type": "tick", "orient": "horizontal", "size": 35.1, "thickness": 1.3, "color": "#31a354", "opacity": 1, "clip": true},
         "encoding": {
           "x": {"field": "beta", "type": "quantitative", "axis": null},
           "y": {"field": "med", "type": "quantitative", "axis": null}
         }},
        {"data": {"values": [{}]},
         "mark": {"type": "rule", "color": "#808080", "strokeWidth": 1.5, "strokeDash": [6, 3.5]},
         "encoding": {"y": {"datum": 1, "axis": null}}},
        {"data": {"name": "curve_b"},
         "mark": {"type": "line", "strokeWidth": 2.2, "interpolate": "monotone", "clip": true},
         "encoding": {
           "x": {"field": "beta", "type": "quantitative", "axis": null},
           "y": {"field": "ccs", "type": "quantitative", "axis": null},
           "color": {"field": "series", "type": "nominal", "scale": {"range": ["#5aae6e"]}, "legend": {"title": null}}
         }},
        {"data": {"name": "ann_b"},
         "mark": {"type": "rule", "color": "#a5a5a5", "strokeWidth": 4.5},
         "encoding": {
           "x": {"field": "tail_x", "type": "quantitative", "axis": null},
           "y": {"field": "tail_y", "type": "quantitative", "axis": null},
           "x2": {"field": "base_x"}, "y2": {"field": "base_y"}
         }},
        {"data": {"name": "ann_b"},
         "mark": {"type": "point", "shape": "M0,0L-2,-1L-2,1Z", "size": 144, "angle": 150.45, "filled": true, "color": "#a5a5a5", "opacity": 1, "strokeWidth": 0},
         "encoding": {
           "x": {"field": "tip_x", "type": "quantitative", "axis": null},
           "y": {"field": "tip_y", "type": "quantitative", "axis": null}
         }},
        {"data": {"name": "ann_b"},
         "mark": {"type": "text", "fontSize": 17, "color": "#31a354", "align": "center", "baseline": "middle"},
         "encoding": {
           "x": {"field": "tx", "type": "quantitative", "axis": null},
           "y": {"field": "ty", "type": "quantitative", "axis": null},
           "text": {"field": "label"}
         }}
      ]
    }
  ]
}
